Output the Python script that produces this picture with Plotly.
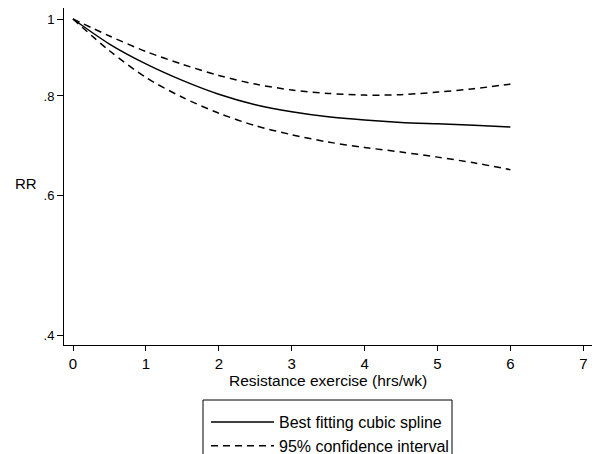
import plotly.graph_objects as go
import math

x_hrs = [0, 0.5, 1, 1.5, 2, 2.5, 3, 3.5, 4, 4.5, 5, 5.5, 6]
rr_spline = [1.0, 0.930, 0.878, 0.837, 0.804, 0.780, 0.764, 0.753, 0.746, 0.741, 0.738, 0.735, 0.731]
rr_upper = [1.0, 0.952, 0.910, 0.877, 0.849, 0.828, 0.814, 0.806, 0.802, 0.803, 0.809, 0.817, 0.828]
rr_lower = [1.0, 0.912, 0.844, 0.797, 0.761, 0.734, 0.715, 0.700, 0.689, 0.680, 0.670, 0.659, 0.646]

y_tickvals = [0.4, 0.6, 0.8, 1.0]
y_ticktext = [".4", ".6", ".8", "1"]
x_tickvals = [0, 1, 2, 3, 4, 5, 6, 7]

FONT = "Liberation Sans, Arial, sans-serif"

fig = go.Figure()
fig.add_trace(go.Scatter(x=x_hrs, y=rr_spline, mode="lines",
                         line=dict(color="black", width=1.5, shape="spline", smoothing=0.8),
                         name="Best fitting cubic spline"))
fig.add_trace(go.Scatter(x=x_hrs, y=rr_upper, mode="lines",
                         line=dict(color="black", width=1.5, dash="7px,5px", shape="spline", smoothing=0.8),
                         name="95% confidence interval", legendgroup="ci"))
fig.add_trace(go.Scatter(x=x_hrs, y=rr_lower, mode="lines",
                         line=dict(color="black", width=1.5, dash="7px,5px", shape="spline", smoothing=0.8),
                         name="95% confidence interval", legendgroup="ci", showlegend=False))

W, H = 592, 454
L, R, T, B = 64, 0, 8, 109
pw, ph = W - L - R, H - T - B
ppu = 72.9
x0 = -(73 - L) / ppu
x1 = x0 + pw / ppu

def px_x(p):
    return (p - L) / pw

def px_y(p):
    return (H - B - p) / ph

fig.update_layout(
    width=W, height=H,
    margin=dict(l=L, r=R, t=T, b=B, autoexpand=False),
    paper_bgcolor="white", plot_bgcolor="white",
    font=dict(family=FONT, size=15, color="black"),
    showlegend=True,
    legend=dict(x=px_x(206), y=px_y(405), xanchor="left", yanchor="top",
                bgcolor="rgba(0,0,0,0)", borderwidth=0, itemwidth=63,
                font=dict(size=16), tracegroupgap=0),
    xaxis=dict(range=[x0, x1], tickvals=x_tickvals, showline=True, linecolor="black", linewidth=1,
               ticks="outside", ticklen=5, tickcolor="black", showgrid=False, zeroline=False,
               tickfont=dict(size=15), automargin=False),
    yaxis=dict(type="log", range=[math.log10(0.3886), math.log10(1.0324)], tickvals=y_tickvals, ticktext=y_ticktext,
               showline=True, linecolor="black", linewidth=1, ticks="outside", ticklen=6, tickcolor="black",
               showgrid=False, zeroline=False, tickfont=dict(size=13), automargin=False),
    shapes=[dict(type="rect", xref="paper", yref="paper", x0=px_x(203), x1=px_x(452), y0=px_y(400), y1=px_y(470),
                 line=dict(color="black", width=1), fillcolor="rgba(0,0,0,0)")],
    annotations=[
        dict(text="RR", xref="paper", yref="paper", x=px_x(26), y=px_y(183), showarrow=False,
             xanchor="center", yanchor="middle", font=dict(size=15)),
        dict(text="Resistance exercise (hrs/wk)", xref="paper", yref="paper", x=px_x(328), y=px_y(381),
             showarrow=False, xanchor="center", yanchor="middle", font=dict(size=15.5)),
    ],
)

fig.write_html("out.html")
